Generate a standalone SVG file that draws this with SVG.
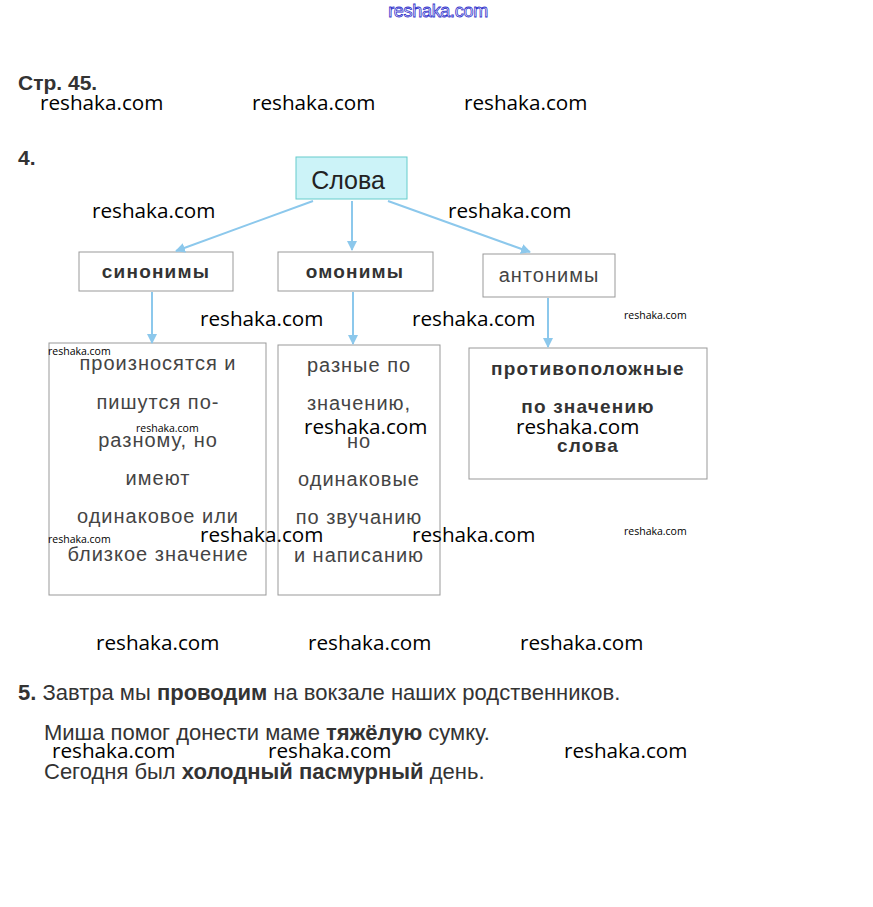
<svg xmlns="http://www.w3.org/2000/svg" width="873" height="907" viewBox="0 0 873 907">
<style>
.wm{font-family:"Open Sans","Noto Sans",sans-serif;font-size:20.7px;fill:#000}
.ws{font-family:"Open Sans","Noto Sans",sans-serif;font-size:10.5px;fill:#000}
.h{font-family:"Liberation Sans",Arial,sans-serif;font-weight:bold;font-size:21px;fill:#333}
.t{font-family:"Liberation Sans",Arial,sans-serif;font-size:20px;fill:#444;text-anchor:middle;letter-spacing:1px}
.tb{font-family:"Liberation Sans",Arial,sans-serif;font-size:19px;font-weight:bold;fill:#333;text-anchor:middle;letter-spacing:1.2px}
.box{fill:#fff;stroke:#999;stroke-width:1}
.s{font-family:"Liberation Sans",Arial,sans-serif;font-size:22px;fill:#333}
.conn line{stroke:#8cc8ec;stroke-width:2;marker-end:url(#ah)}
</style>
<defs>
<marker id="ah" viewBox="0 0 10 10" refX="9" refY="5" markerWidth="5" markerHeight="5" orient="auto" markerUnits="strokeWidth">
<path d="M0,0 L10,5 L0,10 z" fill="#8cc8ec"/>
</marker>
</defs>
<rect width="873" height="907" fill="#fff"/>
<text x="438" y="17" text-anchor="middle" font-family="Liberation Sans,Arial,sans-serif" font-size="18" fill="#fff" stroke="#3333cc" stroke-width="0.8" letter-spacing="-0.3">reshaka.com</text>
<text class="h" x="18" y="90">Стр. 45.</text>
<text class="h" x="18" y="165">4.</text>
<g id="n-slova">
<rect x="296" y="157" width="111" height="42" fill="#ccf3f8" stroke="#66cccc"/>
<text x="348" y="189" text-anchor="middle" font-family="Liberation Sans,Arial,sans-serif" font-size="25" fill="#222">Слова</text>
</g>
<g id="n-sinonimy">
<rect class="box" x="79" y="252" width="154" height="39"/>
<text class="tb" x="156" y="278" font-size="17" letter-spacing="2">синонимы</text>
</g>
<g id="n-omonimy">
<rect class="box" x="278" y="252" width="155" height="39"/>
<text class="tb" x="355" y="278" font-size="17" letter-spacing="2">омонимы</text>
</g>
<g id="n-antonimy">
<rect class="box" x="483" y="254" width="132" height="43"/>
<text class="t" x="549" y="282" font-size="18" letter-spacing="1.6">антонимы</text>
</g>
<g id="n-sin-def">
<rect class="box" x="49" y="343" width="217" height="252"/>
<text class="t" x="158" y="370">произносятся и</text>
<text class="t" x="158" y="409">пишутся по-</text>
<text class="t" x="158" y="447">разному, но</text>
<text class="t" x="158" y="485">имеют</text>
<text class="t" x="158" y="523">одинаковое или</text>
<text class="t" x="158" y="561">близкое значение</text>
</g>
<g id="n-om-def">
<rect class="box" x="278" y="345" width="162" height="250"/>
<text class="t" x="359" y="372">разные по</text>
<text class="t" x="359" y="410">значению,</text>
<text class="t" x="359" y="448">но</text>
<text class="t" x="359" y="486">одинаковые</text>
<text class="t" x="359" y="524">по звучанию</text>
<text class="t" x="359" y="562">и написанию</text>
</g>
<g id="n-ant-def">
<rect class="box" x="469" y="348" width="238" height="131"/>
<text class="tb" x="588" y="375">противоположные</text>
<text class="tb" x="588" y="413">по значению</text>
<text class="tb" x="588" y="452">слова</text>
</g>
<g class="conn" id="connectors">
<line x1="313" y1="201" x2="176" y2="251"/>
<line x1="352" y1="201" x2="352" y2="250"/>
<line x1="388" y1="201" x2="530" y2="252"/>
<line x1="152" y1="292" x2="152" y2="343"/>
<line x1="353" y1="292" x2="353" y2="344"/>
<line x1="548" y1="298" x2="548" y2="347"/>
</g>
<g id="sec5">
<text class="s" x="18" y="700"><tspan font-weight="bold">5.</tspan> Завтра мы <tspan font-weight="bold">проводим</tspan> на вокзале наших родственников.</text>
<text class="s" x="44" y="740">Миша помог донести маме <tspan font-weight="bold">тяжёлую</tspan> сумку.</text>
<text class="s" x="44" y="779">Сегодня был <tspan font-weight="bold">холодный пасмурный</tspan> день.</text>
</g>
<g id="watermarks">
<text class="wm" x="40" y="110">reshaka.com</text>
<text class="wm" x="252" y="110">reshaka.com</text>
<text class="wm" x="464" y="110">reshaka.com</text>
<text class="wm" x="92" y="218">reshaka.com</text>
<text class="wm" x="448" y="218">reshaka.com</text>
<text class="wm" x="200" y="326">reshaka.com</text>
<text class="wm" x="412" y="326">reshaka.com</text>
<text class="wm" x="304" y="434">reshaka.com</text>
<text class="wm" x="516" y="434">reshaka.com</text>
<text class="wm" x="200" y="542">reshaka.com</text>
<text class="wm" x="412" y="542">reshaka.com</text>
<text class="wm" x="96" y="650">reshaka.com</text>
<text class="wm" x="308" y="650">reshaka.com</text>
<text class="wm" x="520" y="650">reshaka.com</text>
<text class="wm" x="52" y="758">reshaka.com</text>
<text class="wm" x="268" y="758">reshaka.com</text>
<text class="wm" x="564" y="758">reshaka.com</text>
<text class="ws" x="624" y="319">reshaka.com</text>
<text class="ws" x="48" y="355">reshaka.com</text>
<text class="ws" x="136" y="432">reshaka.com</text>
<text class="ws" x="48" y="543">reshaka.com</text>
<text class="ws" x="624" y="535">reshaka.com</text>
</g>
</svg>
